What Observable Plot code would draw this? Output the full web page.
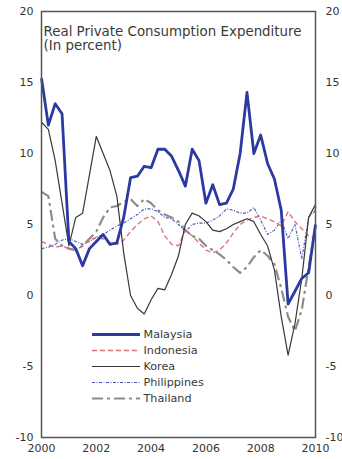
<!DOCTYPE html>
<html>
<head>
<meta charset="utf-8">
<script src="https://cdn.jsdelivr.net/npm/d3@7"></script>
<script src="https://cdn.jsdelivr.net/npm/@observablehq/plot@0.6"></script>
<style>
  html, body { margin: 0; padding: 0; background: #fff; overflow: hidden; }
  #wrap { position: relative; width: 342px; height: 459px; }
  #legend { position: absolute; left: 91px; top: 325px; }
  svg { font-family: "DejaVu Sans", sans-serif; }
</style>
</head>
<body>
<div id="wrap"><div id="chart"></div><div id="legend"></div></div>
<script>
// Quarterly data, 2000Q1 .. 2010Q1 (year-over-year % change)
const startYear = 2000;
const countries = ["Malaysia", "Indonesia", "Korea", "Philippines", "Thailand"];
const malaysia = [15.3, 12.0, 13.5, 12.8, 3.8, 3.3, 2.1, 3.3, 3.8, 4.3, 3.6, 3.7, 5.5, 8.3, 8.4, 9.1, 9.0, 10.3, 10.3, 9.8, 8.8, 7.7, 10.3, 9.5, 6.5, 7.8, 6.4, 6.5, 7.5, 10.0, 14.3, 10.0, 11.3, 9.3, 8.2, 6.0, -0.6, 0.3, 1.2, 1.6, 5.0];
const indonesia = [3.8, 3.6, 3.4, 3.5, 3.3, 3.2, 3.5, 3.9, 4.1, 4.0, 3.7, 3.6, 3.9, 4.5, 5.0, 5.4, 5.6, 5.2, 4.2, 3.6, 3.5, 4.6, 4.2, 3.7, 3.2, 3.0, 3.2, 3.7, 4.4, 5.0, 5.3, 5.5, 5.6, 5.4, 5.2, 4.9, 5.9, 5.2, 4.7, 4.2, 4.0];
const korea = [12.2, 11.7, 9.5, 6.5, 3.5, 5.5, 5.8, 8.5, 11.2, 10.0, 8.8, 7.0, 3.0, 0.0, -0.9, -1.3, -0.3, 0.5, 0.4, 1.5, 2.8, 5.0, 5.8, 5.6, 5.2, 4.6, 4.5, 4.7, 5.0, 5.2, 5.4, 5.2, 4.3, 3.5, 1.8, -1.5, -4.2, -2.0, 1.2, 5.5, 6.4];
const philippines = [3.3, 3.4, 3.6, 3.9, 4.0, 3.8, 3.6, 3.8, 4.1, 4.3, 4.6, 4.9, 5.1, 5.4, 5.7, 6.1, 6.1, 5.9, 5.5, 5.4, 5.0, 4.5, 5.0, 5.1, 5.1, 5.3, 5.6, 6.1, 6.0, 5.8, 5.8, 6.2, 5.3, 4.3, 4.6, 5.3, 4.0, 5.0, 2.6, 5.5, 6.0];
const thailand = [7.3, 7.0, 4.0, 3.5, 3.3, 3.2, 3.5, 4.0, 4.5, 5.5, 6.2, 6.3, 6.6, 6.8, 6.3, 6.8, 6.5, 6.0, 5.7, 5.5, 5.2, 4.6, 4.2, 4.0, 3.5, 3.2, 2.9, 2.5, 2.0, 1.6, 2.0, 2.7, 3.2, 2.8, 2.2, 0.5, -1.5, -2.5, -1.0, 2.0, 4.8];
const yTicks = [-10, -5, 0, 5, 10, 15, 20];
const xTicks = [2000, 2002, 2004, 2006, 2008, 2010];
const titleText = "Real Private Consumption Expenditure\n(In percent)";

const seriesValues = [malaysia, indonesia, korea, philippines, thailand];
const styles = {
  Malaysia:    {stroke: "#2b3aa0", strokeWidth: 2.8, dash: null},
  Indonesia:   {stroke: "#d7777a", strokeWidth: 1.4, dash: "5,3"},
  Korea:       {stroke: "#383838", strokeWidth: 1.2, dash: null},
  Philippines: {stroke: "#4654b4", strokeWidth: 1.1, dash: "3,1.5,1,1.5"},
  Thailand:    {stroke: "#8c8c8c", strokeWidth: 2.2, dash: "11,4,3,4"}
};

const table = countries.map((name, k) =>
  seriesValues[k].map((v, i) => ({name, date: startYear + i / 4, value: v}))
);

const order = ["Thailand", "Philippines", "Indonesia", "Korea", "Malaysia"];
const lineMarks = order.map(name => {
  const k = countries.indexOf(name);
  const s = styles[name];
  return Plot.line(table[k], {
    x: "date", y: "value",
    stroke: s.stroke, strokeWidth: s.strokeWidth,
    strokeDasharray: s.dash || undefined,
    strokeLinejoin: "round", strokeLinecap: "butt"
  });
});

const fmt = d => String(d);

const chart = Plot.plot({
  width: 342, height: 459,
  marginLeft: 41, marginRight: 27, marginTop: 11, marginBottom: 22,
  style: {fontFamily: "DejaVu Sans, sans-serif", fontSize: "11px", color: "#333", background: "#fff"},
  x: {domain: [2000, 2010]},
  y: {domain: [-10, 20]},
  marks: [
    ...lineMarks,
    Plot.frame({stroke: "#555", strokeWidth: 1.5}),
    Plot.axisY(yTicks, {anchor: "left", tickSize: 0, tickPadding: 8, fontSize: 11, fill: "#333", label: null, tickFormat: fmt}),
    Plot.axisY(yTicks, {anchor: "right", tickSize: 0, tickPadding: 10, fontSize: 11, fill: "#333", label: null, textAnchor: "start", tickFormat: fmt}),
    Plot.axisX(xTicks, {anchor: "bottom", tickSize: 0, tickPadding: 7, fontSize: 11, fill: "#333", label: null, tickFormat: fmt}),
    Plot.text([titleText], {
      text: d => d, frameAnchor: "top-left", dx: 2, dy: 14,
      textAnchor: "start", lineAnchor: "top", lineHeight: 1.05,
      fontSize: 13.4, fill: "#3a3a3a"
    })
  ]
});
document.getElementById("chart").appendChild(chart);

const legend = Plot.plot({
  width: 140, height: 82,
  margin: 0,
  style: {fontFamily: "DejaVu Sans, sans-serif", background: "transparent"},
  x: {domain: [0, 1], range: [1, 49], axis: null},
  y: {type: "point", domain: countries, range: [8, 73], padding: 0, axis: null},
  marks: [
    ...countries.map(name => {
      const s = styles[name];
      return Plot.ruleY([name], {
        x1: 0, x2: 1, y: d => d,
        stroke: s.stroke, strokeWidth: s.strokeWidth,
        strokeDasharray: s.dash || undefined
      });
    }),
    Plot.text(countries, {x: 1, y: d => d, text: d => d, dx: 3, textAnchor: "start", fontSize: 11.2, fill: "#3a3a3a"})
  ]
});
document.getElementById("legend").appendChild(legend);
</script>
</body>
</html>
